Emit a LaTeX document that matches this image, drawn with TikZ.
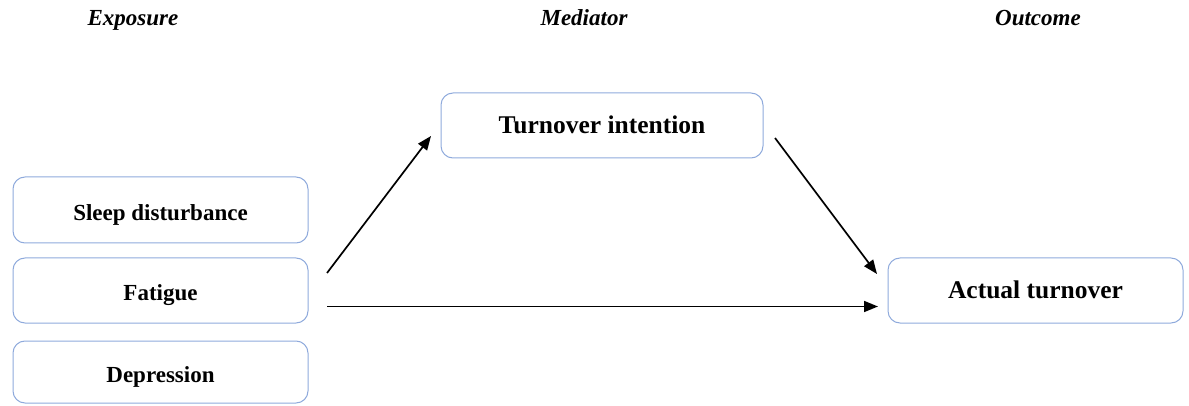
\documentclass[tikz,border=0pt]{standalone}
\usepackage{fontspec}
\setmainfont{Liberation Serif}
\usetikzlibrary{arrows.meta}
\definecolor{boxline}{RGB}{143,170,220}
\tikzset{
  expbox/.style={draw=boxline, line width=1pt, rounded corners=12pt, inner sep=0pt,
    minimum width=295pt, minimum height=65pt, font=\fontsize{23}{27}\selectfont\bfseries,
    text height=22pt, text depth=1.3pt},
  bigbox/.style={draw=boxline, line width=1pt, rounded corners=12pt, inner sep=0pt,
    minimum height=65pt, font=\fontsize{25.5}{30}\selectfont\bfseries,
    text height=19pt, text depth=3pt},
  header/.style={font=\fontsize{23}{27}\selectfont\bfseries\itshape, inner sep=0pt, anchor=base},
  arr/.style={line width=1.7pt, -{Triangle[length=14pt,width=11pt]}}
}
\begin{document}
\begin{tikzpicture}[x=1pt,y=-1pt]
\useasboundingbox (0,0) rectangle (1189,406);
\node[header] (hexp) at (133,26) {Exposure};
\node[header] (hmed) at (584,26) {Mediator};
\node[header] (hout) at (1038,26) {Outcome};

\node[expbox, minimum height=66pt] (sleep) at (160.5,210) {Sleep disturbance};
\node[expbox] (fatigue) at (160.5,290.5) {Fatigue};
\node[expbox, minimum height=62pt] (depr) at (160.5,372) {Depression};

\node[bigbox, minimum width=322pt] (ti) at (602,125.5) {Turnover intention};
\node[bigbox, minimum width=295pt] (at) at (1035.5,290.5) {Actual turnover};

\coordinate (s1) at (327,273);
\coordinate (e1) at (431,136);
\coordinate (s2) at (775,138);
\coordinate (e2) at (877,274);
\coordinate (s3) at (327,306.5);
\coordinate (e3) at (878,306.5);
\draw[arr] (s1) -- (e1);
\draw[arr] (s2) -- (e2);
\draw[arr] (s3) -- (e3);
\end{tikzpicture}
\end{document}
